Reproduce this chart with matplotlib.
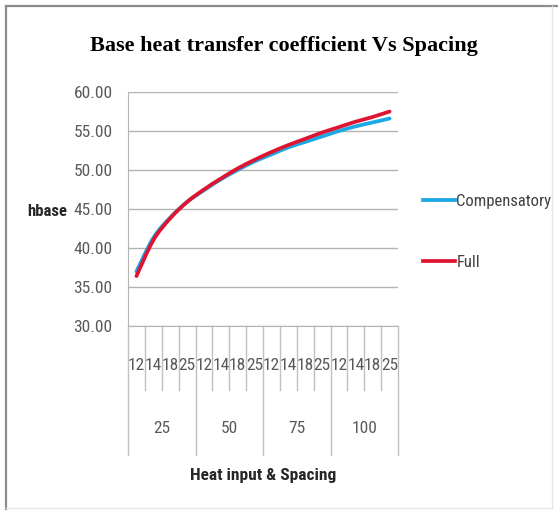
import matplotlib
matplotlib.use("Agg")
import matplotlib.pyplot as plt
from matplotlib.path import Path
from matplotlib.patches import PathPatch
from matplotlib.lines import Line2D
import matplotlib.transforms as mtransforms

# data
heat_input = ["25", "50", "75", "100"]
spacing = ["12", "14", "18", "25"]
compensatory = [37.0, 41.3, 43.9, 45.9, 47.4, 48.8, 50.0, 51.1,
                52.0, 52.9, 53.6, 54.3, 55.0, 55.6, 56.1, 56.6]
full = [36.4, 41.0, 43.8, 45.9, 47.5, 48.9, 50.2, 51.3,
        52.3, 53.2, 54.0, 54.8, 55.5, 56.2, 56.8, 57.5]
yticks = [30, 35, 40, 45, 50, 55, 60]

narrow = ["Liberation Sans Narrow", "Roboto Condensed", "DejaVu Sans Condensed", "DejaVu Sans"]
serif = ["DejaVu Serif Condensed", "Liberation Serif", "DejaVu Serif"]
plt.rcParams["font.family"] = narrow


def smooth_path(xs, ys):
    # excel-like smoothed line: catmull-rom turned into bezier segments
    pts = list(zip(xs, ys))
    verts = [pts[0]]
    codes = [Path.MOVETO]
    n = len(pts)
    for i in range(n - 1):
        p0 = pts[max(i - 1, 0)]
        p1 = pts[i]
        p2 = pts[i + 1]
        p3 = pts[min(i + 2, n - 1)]
        c1 = (p1[0] + (p2[0] - p0[0]) / 6, p1[1] + (p2[1] - p0[1]) / 6)
        c2 = (p2[0] - (p3[0] - p1[0]) / 6, p2[1] - (p3[1] - p1[1]) / 6)
        verts += [c1, c2, p2]
        codes += [Path.CURVE4] * 3
    return Path(verts, codes)


fig = plt.figure(figsize=(5.58, 5.15), dpi=100)
ax = fig.add_axes([128 / 558, 1 - 326 / 515, 270 / 558, 234 / 515])

n = len(heat_input) * len(spacing)
x = list(range(n))
blue = "#1ba9e4"
red = "#df1430"
for ys, col in [(compensatory, blue), (full, red)]:
    ax.add_patch(PathPatch(smooth_path(x, ys), fill=False, edgecolor=col,
                           lw=2.7, capstyle="round", joinstyle="round", zorder=3))

ax.set_xlim(-0.5, n - 0.5)
ax.set_ylim(30, 60)
ax.set_yticks(yticks)
ax.set_yticklabels(["%.2f" % v for v in yticks])
ax.tick_params(axis="y", length=0, pad=11, labelsize=12.5, labelcolor="#595959")
ax.set_xticks([])
ax.grid(axis="y", color="#b4b4b4", lw=1)
ax.set_axisbelow(True)
for s in ["top", "right"]:
    ax.spines[s].set_visible(False)
ax.spines["left"].set_color("#b4b4b4")
ax.spines["bottom"].set_color("#b4b4b4")

# two-level category axis
trans = mtransforms.blended_transform_factory(ax.transData, ax.transAxes)
for k in range(n + 1):
    bottom = -0.551 if k % len(spacing) == 0 else -0.274
    ax.add_line(Line2D([k - 0.5, k - 0.5], [0, bottom], transform=trans,
                       color="#c0c0c0", lw=1, clip_on=False))
for i in range(n):
    ax.text(i, -0.167, spacing[i % len(spacing)], transform=trans, ha="center",
            va="center", fontsize=12.5, color="#595959")
for g, lab in enumerate(heat_input):
    ax.text(g * len(spacing) + 1.5, -0.436, lab, transform=trans, ha="center",
            va="center", fontsize=12.5, color="#595959")
ax.text(0.5, -0.637, "Heat input & Spacing", transform=ax.transAxes, ha="center",
        va="center", fontsize=12.5, fontweight="bold", color="#262626")

fig.text(27 / 558, 1 - 211 / 515, "hbase", ha="left", va="center",
         fontsize=12, fontweight="bold", color="#262626")
fig.text(284 / 558, 1 - 46 / 515, "Base heat transfer coefficient Vs Spacing",
         ha="center", va="center", fontsize=16, fontweight="bold", family=serif)

handles = [Line2D([], [], color=blue, lw=2.7), Line2D([], [], color=red, lw=2.7)]
fig.legend(handles, ["Compensatory", "Full"], loc="center left",
           bbox_to_anchor=(423 / 558, 1 - 232 / 515), frameon=False,
           fontsize=12, labelcolor="#404040", handlelength=1.9,
           handletextpad=0.1, labelspacing=2.75, borderpad=0, borderaxespad=0)

# chart frame
fig.add_artist(Line2D([5.5 / 558, 1], [1 - 5.5 / 515] * 2, transform=fig.transFigure,
                      color="#8c8c8c", lw=1.6))
fig.add_artist(Line2D([5.5 / 558] * 2, [1 - 509 / 515, 1 - 5.5 / 515], transform=fig.transFigure,
                      color="#8c8c8c", lw=1.6))
fig.add_artist(Line2D([552 / 558] * 2, [1 - 508 / 515, 1 - 6 / 515], transform=fig.transFigure,
                      color="#e6e6e6", lw=1))
fig.add_artist(Line2D([6 / 558, 552 / 558], [1 - 508 / 515] * 2, transform=fig.transFigure,
                      color="#e6e6e6", lw=1))

fig.savefig("out.png", dpi=100)
